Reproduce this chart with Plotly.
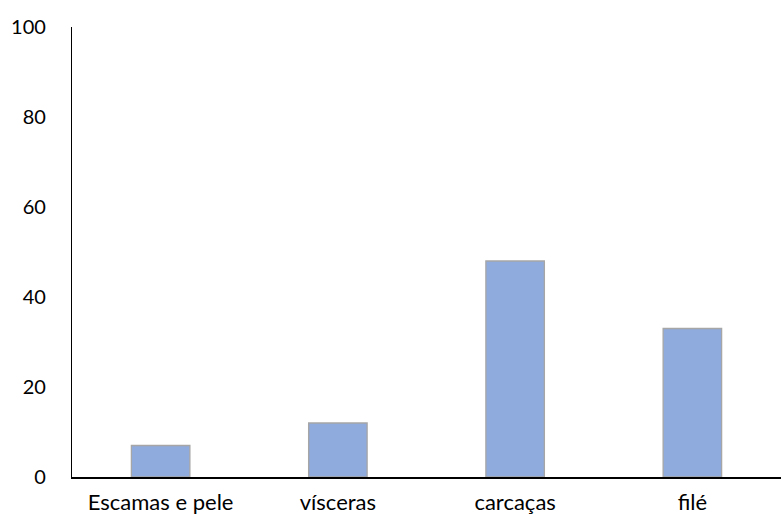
import plotly.graph_objects as go

categories = ["Escamas e pele", "vísceras", "carcaças", "filé"]
values = [7, 12, 48, 33]
y_ticks = [0, 20, 40, 60, 80, 100]

fig = go.Figure(go.Bar(
    x=categories, y=values,
    marker=dict(color="#8FAADC", line=dict(color="#A6A6A6", width=1.3)),
))

fig.update_layout(
    width=781, height=517,
    margin=dict(l=72, r=0, t=27, b=40),
    plot_bgcolor="white", paper_bgcolor="white",
    bargap=0.67,
    showlegend=False,
    font=dict(family="Lato, Carlito, Liberation Sans, sans-serif", size=20, color="black"),
)
fig.update_yaxes(
    range=[0, 100], tickvals=y_ticks, showgrid=False, zeroline=False,
    showline=True, linecolor="black", linewidth=1.3,
    ticks="", ticklabelstandoff=21, automargin=False,
)
fig.update_xaxes(
    showgrid=False, showline=True, linecolor="black", linewidth=1.5,
    ticks="", ticklabelstandoff=5, automargin=False,
    tickfont=dict(size=22),
)

fig.write_html("out.html")
